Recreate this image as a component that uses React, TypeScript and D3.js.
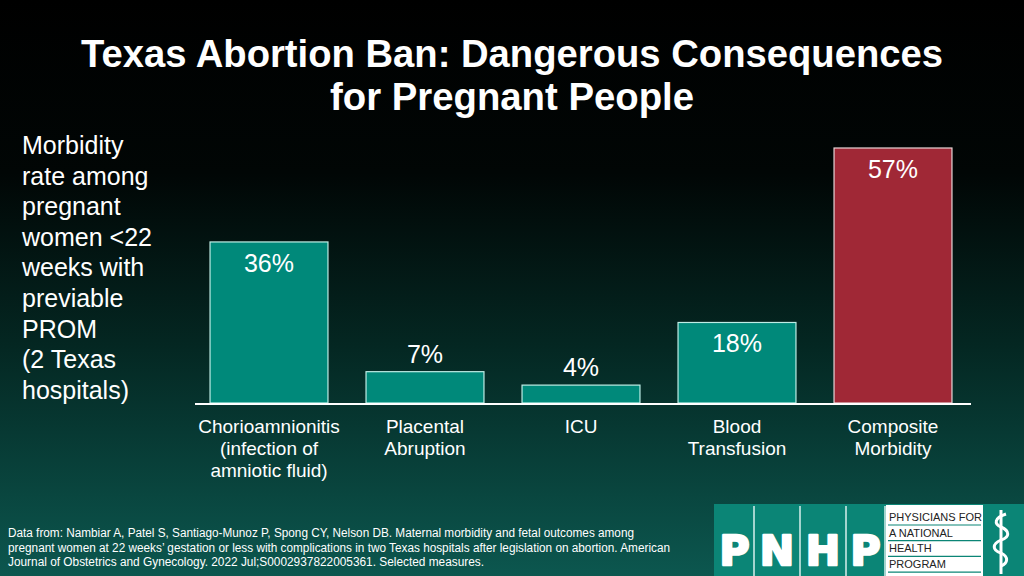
import { useEffect, useRef } from "react";
import * as d3 from "d3";

const categories = ["Chorioamnionitis", "Placental Abruption", "ICU", "Blood Transfusion", "Composite Morbidity"];
const categoryLines = [
  ["Chorioamnionitis", "(infection of", "amniotic fluid)"],
  ["Placental", "Abruption"],
  ["ICU"],
  ["Blood", "Transfusion"],
  ["Composite", "Morbidity"],
];
const values = [36, 7, 4, 18, 57];
const highlighted = ["Composite Morbidity"];
const titleLines = ["Texas Abortion Ban: Dangerous Consequences", "for Pregnant People"];
const sideNote = ["Morbidity", "rate among", "pregnant", "women <22", "weeks with", "previable", "PROM", "(2 Texas", "hospitals)"];
const sourceLines = [
  "Data from: Nambiar A, Patel S, Santiago-Munoz P, Spong CY, Nelson DB. Maternal morbidity and fetal outcomes among",
  "pregnant women at 22 weeks\u2019 gestation or less with complications in two Texas hospitals after legislation on abortion. American",
  "Journal of Obstetrics and Gynecology. 2022 Jul;S0002937822005361.  Selected measures.",
];
const logoLetters = ["P", "N", "H", "P"];
const logoWords = ["PHYSICIANS FOR", "A NATIONAL", "HEALTH", "PROGRAM"];

const W = 1024;
const H = 576;
const TEAL = "#00897a";
const RED = "#a02836";

// the original uses a condensed face; squeeze the installed sans to the same widths
const titleWidths = [862, 364];
const sourceWidths = [626, 662, 476];

const App = () => {
  const ref = useRef<SVGSVGElement | null>(null);

  useEffect(() => {
    const svg = d3.select(ref.current);
    svg.selectAll("*").remove();

    const defs = svg.append("defs");
    const grad = defs.append("linearGradient").attr("id", "bg").attr("x1", 0).attr("y1", 0).attr("x2", 0).attr("y2", 1);
    grad.append("stop").attr("offset", "0%").attr("stop-color", "#000000");
    grad.append("stop").attr("offset", "30%").attr("stop-color", "#010605");
    grad.append("stop").attr("offset", "60%").attr("stop-color", "#042722");
    grad.append("stop").attr("offset", "100%").attr("stop-color", "#0c574f");
    svg.append("rect").attr("width", W).attr("height", H).attr("fill", "url(#bg)");

    // title
    svg.append("g")
      .selectAll("text")
      .data(titleLines)
      .join("text")
      .attr("x", 512)
      .attr("y", (d, i) => 67 + i * 43)
      .attr("text-anchor", "middle")
      .attr("fill", "#fff")
      .attr("textLength", (d, i) => titleWidths[i])
      .attr("lengthAdjust", "spacingAndGlyphs")
      .style("font-family", "'Liberation Sans', Arial, sans-serif")
      .style("font-weight", "bold")
      .style("font-size", "39px")
      .text((d) => d);

    // side note
    svg.append("g")
      .selectAll("text")
      .data(sideNote)
      .join("text")
      .attr("x", 22)
      .attr("y", (d, i) => 154 + i * 30.6)
      .attr("fill", "#fff")
      .style("font-family", "'Liberation Sans', Arial, sans-serif")
      .style("font-size", "25px")
      .text((d) => d);

    const x = d3.scaleBand().domain(categories).range([191, 971]).paddingInner(0.244).paddingOuter(0.122);
    const y = d3.scaleLinear().domain([0, 57]).range([403, 148]);

    const chart = svg.append("g");
    chart.selectAll("rect.bar")
      .data(categories)
      .join("rect")
      .attr("class", "bar")
      .attr("x", (d) => x(d)!)
      .attr("width", x.bandwidth())
      .attr("y", (d, i) => y(values[i]))
      .attr("height", (d, i) => y(0) - y(values[i]))
      .attr("fill", (d) => (highlighted.includes(d) ? RED : TEAL))
      .attr("stroke", (d) => (highlighted.includes(d) ? "#e8d6d8" : "#bfeee6"))
      .attr("stroke-width", 1.2);

    // value labels: inside when the bar is tall enough
    chart.selectAll("text.val")
      .data(categories)
      .join("text")
      .attr("class", "val")
      .attr("x", (d) => x(d)! + x.bandwidth() / 2)
      .attr("y", (d, i) => (values[i] > 10 ? y(values[i]) + 30 : y(values[i]) - 9))
      .attr("text-anchor", "middle")
      .attr("fill", "#fff")
      .style("font-family", "'Liberation Sans', Arial, sans-serif")
      .style("font-size", "25px")
      .text((d, i) => `${values[i]}%`);

    // axis line
    chart.append("line")
      .attr("x1", 195).attr("x2", 971)
      .attr("y1", y(0) + 1).attr("y2", y(0) + 1)
      .attr("stroke", "#fff").attr("stroke-width", 2);

    // category labels
    const cat = chart.selectAll("text.cat")
      .data(categories)
      .join("text")
      .attr("class", "cat")
      .attr("text-anchor", "middle")
      .attr("fill", "#fff")
      .style("font-family", "'Liberation Sans', Arial, sans-serif")
      .style("font-size", "19px");
    cat.selectAll("tspan")
      .data((d, i) => categoryLines[i].map((t) => ({ t, c: d })))
      .join("tspan")
      .attr("x", (d) => x(d.c)! + x.bandwidth() / 2)
      .attr("y", (d, j) => 433 + j * 22)
      .text((d) => d.t);

    // source note
    svg.append("g")
      .selectAll("text")
      .data(sourceLines)
      .join("text")
      .attr("x", 8)
      .attr("y", (d, i) => 537 + i * 14.5)
      .attr("fill", "#fff")
      .attr("textLength", (d, i) => sourceWidths[i])
      .attr("lengthAdjust", "spacingAndGlyphs")
      .style("font-family", "'Liberation Sans', Arial, sans-serif")
      .style("font-size", "12.5px")
      .text((d) => d);

    // logo
    const logo = svg.append("g");
    logo.append("rect").attr("x", 714).attr("y", 504).attr("width", 310).attr("height", 72).attr("fill", "#0b8576");
    const cellX = [716, 755, 801, 847];
    const cellW = [37, 44, 44, 37];
    logoLetters.forEach((l, i) => {
      if (i > 0) {
        logo.append("line").attr("x1", cellX[i] - 1).attr("x2", cellX[i] - 1).attr("y1", 506).attr("y2", 576)
          .attr("stroke", "#d8efec").attr("stroke-width", 1.5);
      }
      logo.append("text")
        .attr("x", cellX[i] + cellW[i] / 2)
        .attr("y", 565)
        .attr("text-anchor", "middle")
        .attr("fill", "#fff")
        .attr("stroke", "#fff")
        .attr("stroke-width", 2.5)
        .attr("stroke-linejoin", "round")
        .style("font-family", "'DejaVu Sans', 'Liberation Sans', sans-serif")
        .style("font-weight", "bold")
        .style("font-size", "41px")
        .text(l);
    });
    logo.append("line").attr("x1", 885).attr("x2", 885).attr("y1", 506).attr("y2", 576).attr("stroke", "#d8efec").attr("stroke-width", 1.5);
    logo.append("rect").attr("x", 886).attr("y", 505).attr("width", 97).attr("height", 71).attr("fill", "#fff");
    logoWords.forEach((w, i) => {
      logo.append("text")
        .attr("x", 889)
        .attr("y", 521 + i * 15.7)
        .attr("fill", "#222")
        .style("font-family", "'Liberation Sans', Arial, sans-serif")
        .style("font-size", "11px")
        .text(w);
      logo.append("line").attr("x1", 888).attr("x2", 981)
        .attr("y1", 525 + i * 15.7).attr("y2", 525 + i * 15.7)
        .attr("stroke", "#0b8576").attr("stroke-width", 1.2);
    });
    // simple staff and serpent
    logo.append("line").attr("x1", 1001).attr("x2", 1001).attr("y1", 510).attr("y2", 574).attr("stroke", "#fff").attr("stroke-width", 3);
    logo.append("path")
      .attr("d", "M1006,514 C994,518 994,524 1001,527 C1010,531 1010,537 1001,540 C992,544 992,550 1001,553 C1009,557 1008,563 1001,566")
      .attr("fill", "none").attr("stroke", "#fff").attr("stroke-width", 3);
  }, []);

  return (
    <div style={{ position: "absolute", left: 0, top: 0 }}>
      <svg ref={ref} width={W} height={H} style={{ display: "block" }} />
    </div>
  );
};

export default App;
